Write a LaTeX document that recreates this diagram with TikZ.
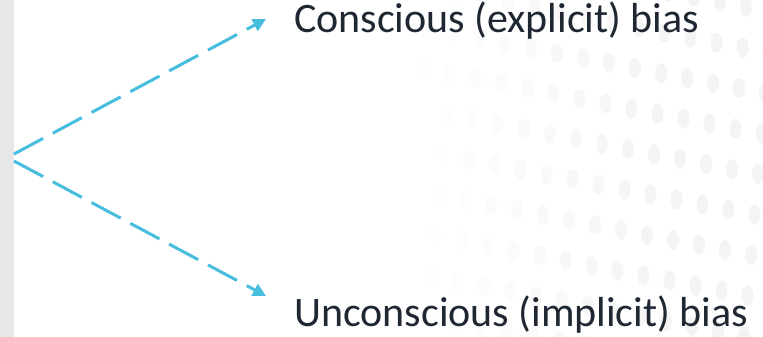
\documentclass[tikz,border=0pt]{standalone}
\usepackage{fontspec}
\setmainfont{Carlito}
\usetikzlibrary{arrows.meta}
\definecolor{linkblue}{RGB}{72,190,223}
\definecolor{inkdark}{RGB}{31,39,51}
\definecolor{stripgray}{RGB}{231,231,231}
\tikzset{
  flow/.style={draw=linkblue, line width=3pt, dash pattern=on 33pt off 11pt,
    -{Triangle[length=13pt,width=13pt]}},
  label/.style={anchor=base west, inner sep=0pt, text=inkdark,
    font=\fontsize{42}{42}\selectfont},
  dotmark/.style={fill=gray!9}
}
\begin{document}
\begin{tikzpicture}[x=1pt,y=-1pt]
\useasboundingbox (0,0) rectangle (763,337);
\fill[white] (0,0) rectangle (763,337);
\fill[stripgray] (0,0) rectangle (14,337);
% faint dotted backdrop on the right
\begin{scope}
\clip (0,0) rectangle (763,337);
\foreach \j in {-3,...,8}{
  \foreach \i in {-5,...,10}{
    \pgfmathsetmacro\px{531+26*\i-3.5*\j}
    \pgfmathsetmacro\py{48+40.5*\j+5*\i}
    \pgfmathsetmacro\op{min(1,max(0,(\px-420)/250))}
    \fill[dotmark, opacity=\op] (\px,\py) ellipse (6 and 10);
  }
}
\end{scope}
% branch points and targets
\coordinate (srcA) at (14,154);
\coordinate (srcB) at (14,161);
\coordinate (tipA) at (266,19);
\coordinate (tipB) at (266,296);
\node[label] (conscious) at (294,33) {Conscious (explicit) bias};
\node[label] (unconscious) at (294,326) {Unconscious (implicit) bias};
\draw[flow] (srcA) -- (tipA);
\draw[flow] (srcB) -- (tipB);
\end{tikzpicture}
\end{document}
